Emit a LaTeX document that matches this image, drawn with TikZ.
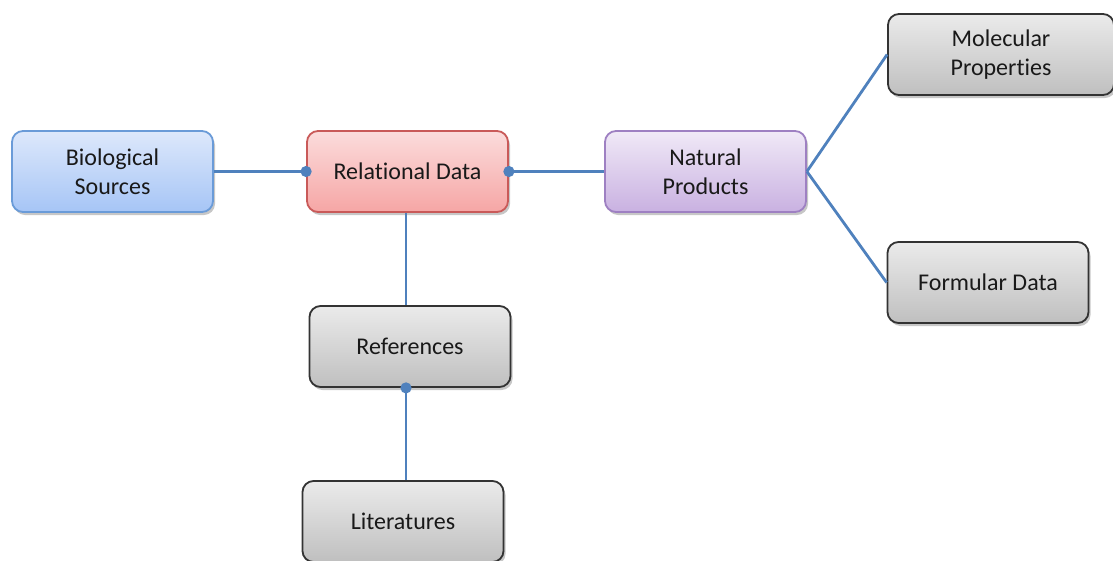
\documentclass[tikz,border=0pt]{standalone}
\usepackage{fontspec}
\setmainfont[Ligatures={NoCommon}]{Carlito}
\usetikzlibrary{arrows.meta,shadows}
\definecolor{lnk}{HTML}{4F81BD}
\definecolor{bioD}{HTML}{6A9BD8}
\definecolor{bioT}{HTML}{DDE8FB}
\definecolor{bioB}{HTML}{A6C5F6}
\definecolor{relD}{HTML}{C95A59}
\definecolor{relT}{HTML}{FBDCDC}
\definecolor{relB}{HTML}{F6A6A5}
\definecolor{npD}{HTML}{9E80C2}
\definecolor{npT}{HTML}{F0E9F7}
\definecolor{npB}{HTML}{C9B1E1}
\tikzset{
  box/.style={rounded corners=11pt, minimum width=201pt, minimum height=81pt, line width=1.8pt,
    align=center, font=\fontsize{24}{29}\selectfont, text=black!90, inner sep=0pt,
    drop shadow={shadow xshift=2pt, shadow yshift=-3pt, opacity=0.4, fill=black!55}},
  greybox/.style={box, draw=black!80, top color=black!8, bottom color=black!25},
  link/.style={draw=lnk, line width=2.8pt},
  dotend/.style={link, -{Circle[length=11pt]}, shorten >=-5.5pt},
  dotstart/.style={link, {Circle[length=11pt]}-, shorten <=-5.5pt},
}
\begin{document}
\begin{tikzpicture}[x=1pt,y=-1pt]
\useasboundingbox (0,0) rectangle (1113,560);
\node[box, draw=bioD, top color=bioT, bottom color=bioB] (bio) at (112.5,171.5) {Biological\\Sources};
\node[box, draw=relD, top color=relT, bottom color=relB] (rel) at (407.5,171.5) {Relational Data};
\node[box, draw=npD, top color=npT, bottom color=npB] (np) at (705.5,171.5) {Natural\\Products};
\node[greybox, minimum width=226pt] (mol) at (1001,54.5) {Molecular\\Properties};
\node[greybox] (form) at (988,282.5) {Formular Data};
\node[greybox] (ref) at (410,346.5) {References};
\node[greybox] (lit) at (403,521.5) {Literatures};
\draw[dotend] (bio.east) -- (rel.west);
\draw[dotstart] (rel.east) -- (np.west);
\draw[link] (rel.south -| 406,0) -- (ref.north -| 406,0);
\draw[dotstart] (ref.south -| 406,0) -- (lit.north -| 406,0);
\draw[link] (np.east) -- (mol.west);
\draw[link] (np.east) -- (form.west);
\end{tikzpicture}
\end{document}
